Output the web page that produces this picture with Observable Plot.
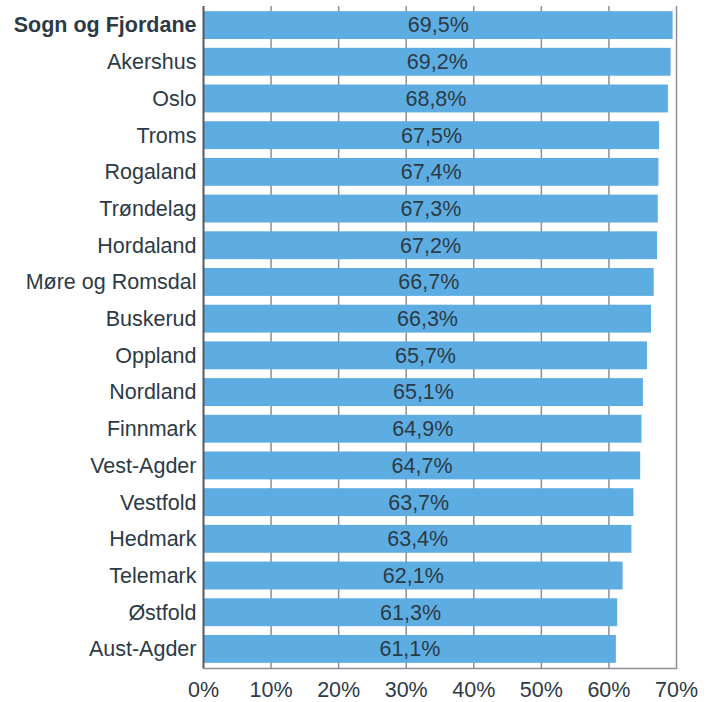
<!DOCTYPE html>
<html>
<head>
<meta charset="utf-8">
<script src="https://cdn.jsdelivr.net/npm/d3@7"></script>
<script src="https://cdn.jsdelivr.net/npm/@observablehq/plot@0.6"></script>
<style>
  html, body { margin: 0; padding: 0; background: #fff; }
  svg { display: block; }
</style>
</head>
<body>
<div id="chart"></div>
<script>
const counties = ["Sogn og Fjordane","Akershus","Oslo","Troms","Rogaland","Trøndelag","Hordaland","Møre og Romsdal","Buskerud","Oppland","Nordland","Finnmark","Vest-Agder","Vestfold","Hedmark","Telemark","Østfold","Aust-Agder"];
const values = [69.5,69.2,68.8,67.5,67.4,67.3,67.2,66.7,66.3,65.7,65.1,64.9,64.7,63.7,63.4,62.1,61.3,61.1];
const xTicks = [0,10,20,30,40,50,60,70];
const highlight = "Sogn og Fjordane";

const data = counties.map((c, i) => ({county: c, value: values[i]}));
const fmt = v => v.toFixed(1).replace(".", ",") + "%";
const font = "'Liberation Sans', Arial, sans-serif";
const fs = 21.5;
const ink = "#2c3a46";

const chart = Plot.plot({
  width: 713,
  height: 702,
  marginTop: 6,
  marginBottom: 34,
  marginLeft: 203,
  marginRight: 37,
  style: {fontFamily: font, fontSize: fs + "px", color: ink, background: "#fff"},
  x: {domain: [0, 70], ticks: xTicks, tickFormat: d => d + "%", label: null, tickSize: 0, tickPadding: 13},
  y: {domain: counties, paddingInner: 0.24, paddingOuter: 0.14, round: false, label: null, axis: null},
  marks: [
    Plot.ruleX(xTicks.filter(d => d > 0), {stroke: "#8a9096", strokeWidth: 1.5, strokeOpacity: 1}),
    Plot.barX(data, {x: "value", y: "county", fill: "#5dade2"}),
    Plot.text(data, {x: d => d.value / 2, y: "county", text: d => fmt(d.value), fill: ink, fontSize: fs}),
    Plot.text(data.filter(d => d.county !== highlight), {x: 0, y: "county", text: "county", textAnchor: "end", dx: -7, fill: ink, fontSize: fs}),
    Plot.text(data.filter(d => d.county === highlight), {x: 0, y: "county", text: "county", textAnchor: "end", dx: -7, fill: ink, fontSize: fs, fontWeight: "bold"}),
    Plot.ruleX([0], {stroke: "#4e5b66", strokeWidth: 2}),
    Plot.axisX({ticks: xTicks, tickFormat: d => d + "%", tickSize: 0, tickPadding: 13, fontSize: fs, label: null}),
    Plot.frame({anchor: "bottom", stroke: "#8a9096", strokeWidth: 1.5})
  ]
});
document.getElementById("chart").appendChild(chart);
</script>
</body>
</html>
